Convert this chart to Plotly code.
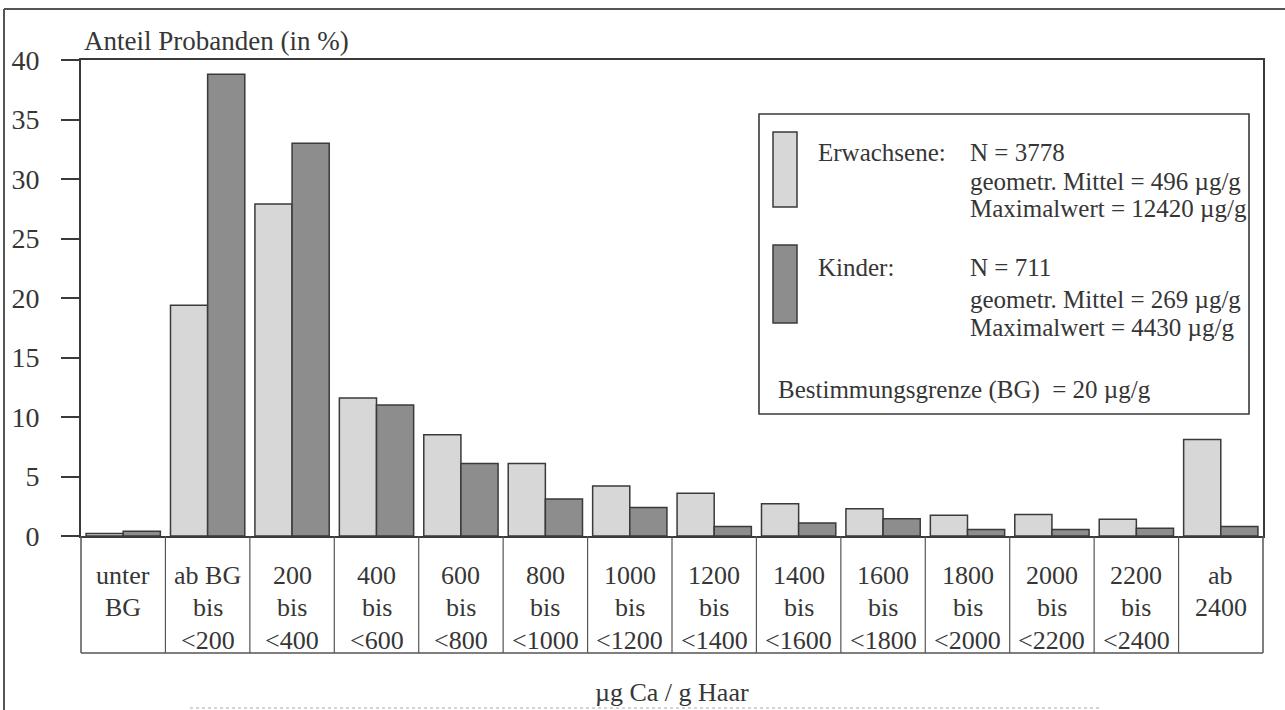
import plotly.graph_objects as go

# Hair calcium distribution: share of subjects (%) per concentration class
classes = [
    ["unter", "BG"],
    ["ab BG", "bis", "<200"],
    ["200", "bis", "<400"],
    ["400", "bis", "<600"],
    ["600", "bis", "<800"],
    ["800", "bis", "<1000"],
    ["1000", "bis", "<1200"],
    ["1200", "bis", "<1400"],
    ["1400", "bis", "<1600"],
    ["1600", "bis", "<1800"],
    ["1800", "bis", "<2000"],
    ["2000", "bis", "<2200"],
    ["2200", "bis", "<2400"],
    ["ab", "2400"],
]
erwachsene = [0.2, 19.4, 27.9, 11.6, 8.5, 6.1, 4.2, 3.6, 2.7, 2.3, 1.75, 1.8, 1.4, 8.1]
kinder = [0.4, 38.8, 33.0, 11.0, 6.1, 3.1, 2.4, 0.8, 1.1, 1.45, 0.55, 0.55, 0.65, 0.8]
y_ticks = [0, 5, 10, 15, 20, 25, 30, 35, 40]

legend_erw = ["N = 3778", "geometr. Mittel = 496 µg/g", "Maximalwert = 12420 µg/g"]
legend_kind = ["N = 711", "geometr. Mittel = 269 µg/g", "Maximalwert = 4430 µg/g"]
bg_note = "Bestimmungsgrenze (BG)  = 20 µg/g"

FONT = "Liberation Serif"
TXT = "#363636"
LINE = "#3a3a3a"
C_ERW = "#d7d7d7"
C_KIND = "#8d8d8d"

W, H = 1285, 710
ML, MR, MT, MB = 81, 22, 60, 174
PW, PH = W - ML - MR, H - MT - MB
n = len(classes)


def px(xp):
    return (xp - ML) / PW


def py(yp):
    return (H - MB - yp) / PH


x_idx = list(range(n))

fig = go.Figure()
fig.add_trace(go.Bar(x=x_idx, y=erwachsene, name="Erwachsene",
                     marker=dict(color=C_ERW, line=dict(color=LINE, width=1.5))))
fig.add_trace(go.Bar(x=x_idx, y=kinder, name="Kinder",
                     marker=dict(color=C_KIND, line=dict(color=LINE, width=1.5))))

shapes = []
ann = []

# class table below the axis
tb = py(653)
for k in range(n + 1):
    shapes.append(dict(type="line", xref="paper", yref="paper",
                       x0=k / n, x1=k / n, y0=tb, y1=0,
                       line=dict(color="#555555", width=1.5 if k in (0, n) else 1.2)))
shapes.append(dict(type="line", xref="paper", yref="paper", x0=0, x1=1, y0=tb, y1=tb,
                   line=dict(color="#555555", width=1.6)))

line_y = [575, 607.5, 640]
for i, lines in enumerate(classes):
    for j, t in enumerate(lines):
        ann.append(dict(x=i, xref="x", y=py(line_y[j]), yref="paper",
                        text=t.replace("<", "&lt;"), showarrow=False,
                        xanchor="center", yanchor="middle",
                        font=dict(family=FONT, size=26, color=TXT)))

# axis titles
ann.append(dict(x=px(82), y=py(41), xref="paper", yref="paper",
                text="Anteil Probanden (in %)", showarrow=False,
                xanchor="left", yanchor="middle",
                font=dict(family=FONT, size=27, color=TXT)))
ann.append(dict(x=px(672), y=py(692), xref="paper", yref="paper",
                text="µg Ca / g Haar", showarrow=False,
                xanchor="center", yanchor="middle",
                font=dict(family=FONT, size=26, color=TXT)))

# legend box
shapes.append(dict(type="rect", xref="paper", yref="paper",
                   x0=px(759), x1=px(1249), y0=py(414), y1=py(114),
                   fillcolor="white", line=dict(color=LINE, width=1.6), layer="above"))
shapes.append(dict(type="rect", xref="paper", yref="paper",
                   x0=px(773), x1=px(797), y0=py(207), y1=py(132),
                   fillcolor=C_ERW, line=dict(color=LINE, width=1.5), layer="above"))
shapes.append(dict(type="rect", xref="paper", yref="paper",
                   x0=px(773), x1=px(797), y0=py(323), y1=py(245),
                   fillcolor=C_KIND, line=dict(color=LINE, width=1.5), layer="above"))


def leg_text(xp, yp, t):
    ann.append(dict(x=px(xp), y=py(yp), xref="paper", yref="paper", text=t,
                    showarrow=False, xanchor="left", yanchor="middle",
                    font=dict(family=FONT, size=25, color=TXT)))


leg_text(816, 152, "Erwachsene:")
for j, t in enumerate(legend_erw):
    leg_text(968, [152, 181, 208][j], t)
leg_text(816, 267, "Kinder:")
for j, t in enumerate(legend_kind):
    leg_text(968, [267, 299, 327][j], t)
leg_text(776, 390, bg_note)

# outer frame (top and left edges visible)
shapes.append(dict(type="line", xref="paper", yref="paper", x0=px(4), x1=px(1290),
                   y0=py(9), y1=py(9), line=dict(color="#555555", width=2)))
shapes.append(dict(type="line", xref="paper", yref="paper", x0=px(4), x1=px(4),
                   y0=py(9), y1=py(715), line=dict(color="#555555", width=2)))
# faint dotted rule at the bottom
shapes.append(dict(type="line", xref="paper", yref="paper", x0=px(190), x1=px(1100),
                   y0=py(708), y1=py(708), line=dict(color="#c8c8c8", width=1.5, dash="dot")))

fig.update_layout(
    width=W, height=H,
    margin=dict(l=ML, r=MR, t=MT, b=MB, pad=0),
    paper_bgcolor="white", plot_bgcolor="white",
    barmode="group", bargap=0.12, bargroupgap=0,
    showlegend=False,
    shapes=shapes, annotations=ann,
    xaxis=dict(range=[-0.5, n - 0.5], showticklabels=False, ticks="",
               showgrid=False, zeroline=False, showline=True, mirror=True,
               linecolor=LINE, linewidth=2),
    yaxis=dict(range=[0, 40], tickvals=y_ticks, ticks="outside", ticklen=18,
               tickwidth=1.5, tickcolor=LINE, ticklabelstandoff=16,
               tickfont=dict(family=FONT, size=28, color=TXT),
               showgrid=False, zeroline=False, showline=True, mirror=True,
               linecolor=LINE, linewidth=2),
)

fig.write_html("out.html")
